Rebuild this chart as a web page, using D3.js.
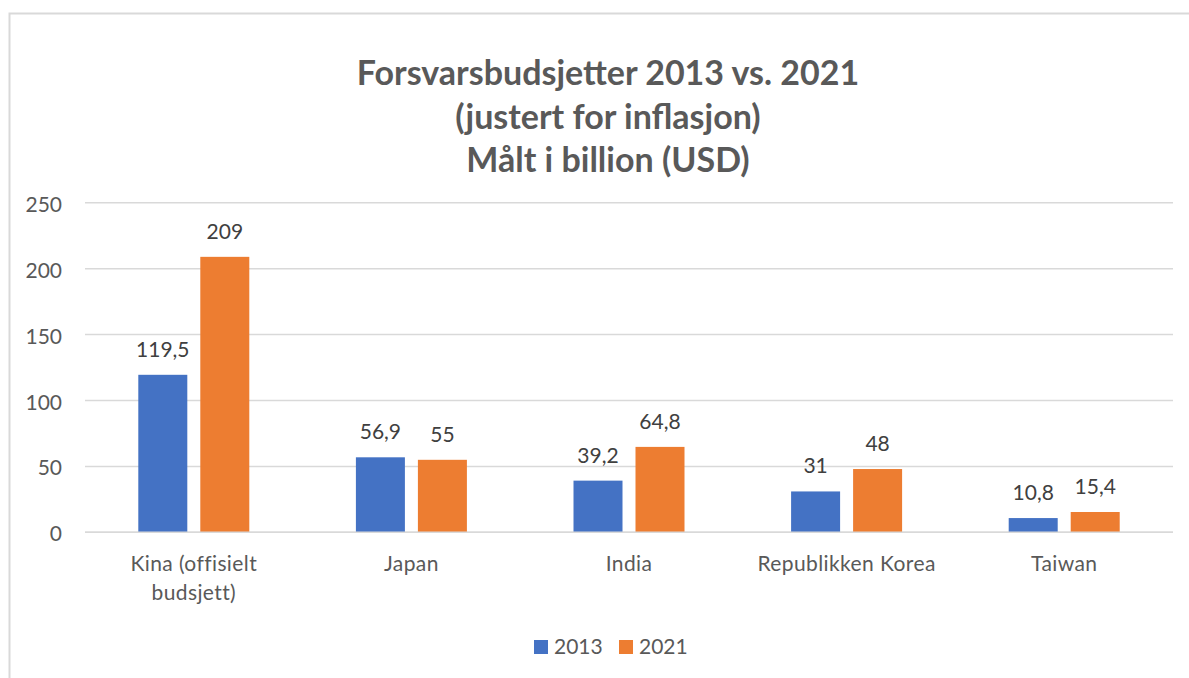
<!DOCTYPE html>
<html><head><meta charset="utf-8">
<script src="https://cdn.jsdelivr.net/npm/d3@7"></script>
<style>body{margin:0;background:#fff;}svg{display:block;}</style>
</head><body>
<script>
const categories = [["Kina (offisielt","budsjett)"],["Japan"],["India"],["Republikken Korea"],["Taiwan"]];
const series2013 = [119.5, 56.9, 39.2, 31, 10.8];
const series2021 = [209, 55, 64.8, 48, 15.4];
const labels2013 = ["119,5","56,9","39,2","31","10,8"];
const labels2021 = ["209","55","64,8","48","15,4"];
const yTicks = [0,50,100,150,200,250];
const seriesNames = ["2013","2021"];
const titleLines = ["Forsvarsbudsjetter 2013 vs. 2021","(justert for inflasjon)","Målt i billion (USD)"];

const W=1189,H=678;
const colors=["#4472C4","#ED7D31"];
const font="Lato, 'Open Sans', sans-serif";
const fs=21;
const svg=d3.select("body").append("svg").attr("width",W).attr("height",H);
svg.append("rect").attr("x",9.5).attr("y",13.5).attr("width",1200).attr("height",700).attr("fill","#fff").attr("stroke","#d9d9d9").attr("stroke-width",2);

const x0=85,x1=1173,yTop=202.8,yBot=532.3;
const y=d3.scaleLinear().domain([0,250]).range([yBot,yTop]);
const xb=d3.scaleBand().domain(d3.range(categories.length)).range([x0,x1]);
const barW=49,gap=13;

svg.append("g").selectAll("line").data(yTicks).join("line")
 .attr("x1",x0).attr("x2",x1).attr("y1",d=>y(d)).attr("y2",d=>y(d))
 .attr("stroke","#d9d9d9").attr("stroke-width",1.5);
svg.append("g").selectAll("text").data(yTicks).join("text")
 .attr("x",62).attr("y",d=>y(d)+9).attr("text-anchor","end")
 .attr("font-family",font).attr("font-size",fs).attr("fill","#595959").text(d=>d);

svg.selectAll("text.title").data(titleLines).join("text").attr("class","title")
 .attr("x",608).attr("y",(d,i)=>85+i*43.5).attr("text-anchor","middle")
 .attr("font-family",font).attr("font-weight","bold").attr("font-size",34).attr("fill","#595959").text(d=>d);

const allSeries=[series2013,series2021];
const allLabels=[labels2013,labels2021];
allSeries.forEach((s,k)=>{
  const xpos=i=>xb(i)+xb.bandwidth()/2+(k===0?-gap/2-barW:gap/2);
  svg.append("g").selectAll("rect").data(s).join("rect")
   .attr("x",(d,i)=>xpos(i)).attr("width",barW)
   .attr("y",d=>y(d)).attr("height",d=>yBot-y(d)).attr("fill",colors[k]);
  svg.append("g").selectAll("text").data(s).join("text")
   .attr("x",(d,i)=>xpos(i)+barW/2).attr("y",d=>y(d)-18)
   .attr("text-anchor","middle").attr("font-family",font).attr("font-size",fs).attr("fill","#404040")
   .text((d,i)=>allLabels[k][i]);
});
svg.append("line").attr("x1",x0).attr("x2",x1).attr("y1",yBot).attr("y2",yBot).attr("stroke","#d9d9d9").attr("stroke-width",1.5);

const cg=svg.append("g");
categories.forEach((lines,i)=>{
  const t=cg.append("text").attr("text-anchor","middle").attr("font-family",font).attr("font-size",fs).attr("letter-spacing",0.4).attr("fill","#595959");
  lines.forEach((l,j)=>t.append("tspan").attr("x",xb(i)+xb.bandwidth()/2).attr("y",571+j*29).text(l));
});

const leg=svg.append("g");
const legX=[534,619];
seriesNames.forEach((n,k)=>{
  leg.append("rect").attr("x",legX[k]).attr("y",640).attr("width",14).attr("height",14).attr("fill",colors[k]);
  leg.append("text").attr("x",legX[k]+20).attr("y",654).attr("font-family",font).attr("font-size",fs).attr("fill","#595959").text(n);
});
</script>
</body></html>
